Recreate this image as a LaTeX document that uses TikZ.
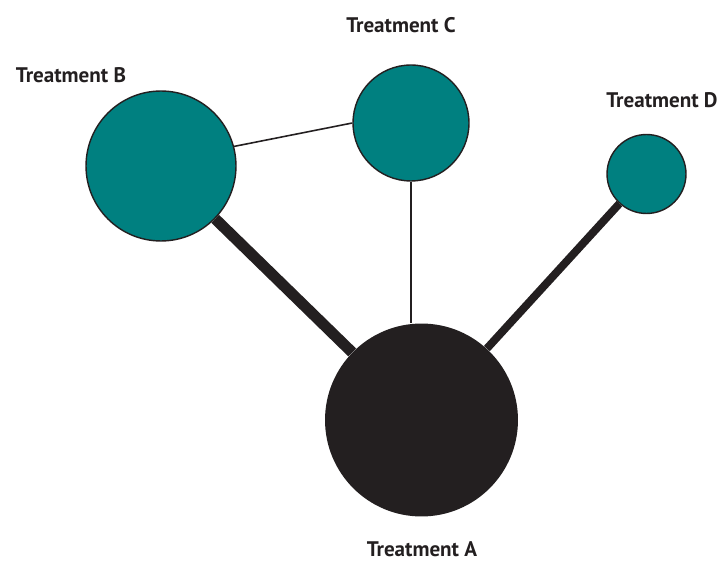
\documentclass[tikz,border=0pt]{standalone}
\usepackage{fontspec}
\setmainfont{PT Sans}
\definecolor{tealfill}{RGB}{0,128,128}
\definecolor{inkblack}{RGB}{35,31,32}

\begin{document}
\begin{tikzpicture}[x=0.02cm,y=-0.02cm,
                    treat node/.style={circle,draw=inkblack,line width=0.8pt,fill=tealfill,inner sep=0pt},
                    base node/.style={circle,fill=inkblack,inner sep=0pt},
                    name node/.style={font=\bfseries\fontsize{12}{14}\selectfont,text=inkblack,inner sep=1pt}]
  \useasboundingbox (0,0) rectangle (723,563);

  \node[base node,minimum size=3.86cm] (A) at (421.5,420) {};
  \node[treat node,minimum size=3cm] (B) at (161,166) {};
  \node[treat node,minimum size=2.32cm] (C) at (411,123) {};
  \node[treat node,minimum size=1.58cm] (D) at (646.5,174) {};

  \node[name node] (nA) at (422,549) {Treatment A};
  \node[name node] (nB) at (71,75) {Treatment B};
  \node[name node] (nC) at (401,25) {Treatment C};
  \node[name node] (nD) at (662,100) {Treatment D};

  \path[draw=inkblack]
    (B) edge[line width=6.3pt] (A)
    (D) edge[line width=4.5pt] (A)
    (C.south) edge[line width=1.7pt] (C.south |- A.north)
    (B.15) edge[line width=0.9pt] (C.west); % thin link between B and C

\end{tikzpicture}
\end{document}
